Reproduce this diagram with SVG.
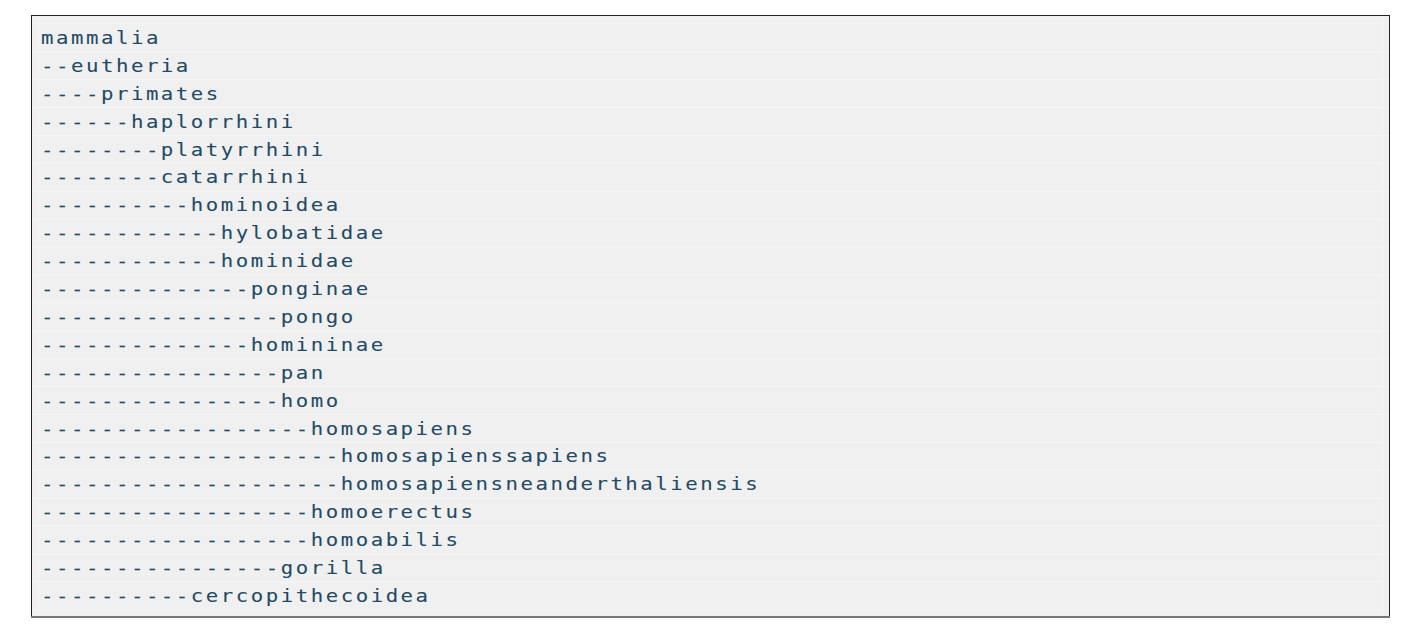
<svg xmlns="http://www.w3.org/2000/svg" width="1424" height="632" viewBox="0 0 1424 632">
<style>
.t{font-family:"DejaVu Sans Mono","Liberation Mono",monospace;font-size:18.5px;letter-spacing:2.25px;fill:#234a64;stroke:#234a64;stroke-width:0.08px}
.g{stroke:#f6f6f6;stroke-width:1}
</style>
<rect x="0" y="0" width="1424" height="632" fill="#ffffff"/>
<g id="panel">
<rect x="31.5" y="15.5" width="1358" height="601" fill="#f0f0f0" stroke="#222222" stroke-width="1"/>
<line x1="31" y1="617" x2="1390" y2="617" stroke="#777777" stroke-width="2"/>
</g>
<g id="grid" class="g">
<line x1="32" y1="23.8" x2="1389" y2="23.8"/>
<line x1="32" y1="51.7" x2="1389" y2="51.7"/>
<line x1="32" y1="79.6" x2="1389" y2="79.6"/>
<line x1="32" y1="107.5" x2="1389" y2="107.5"/>
<line x1="32" y1="135.4" x2="1389" y2="135.4"/>
<line x1="32" y1="163.3" x2="1389" y2="163.3"/>
<line x1="32" y1="191.2" x2="1389" y2="191.2"/>
<line x1="32" y1="219.1" x2="1389" y2="219.1"/>
<line x1="32" y1="247" x2="1389" y2="247"/>
<line x1="32" y1="274.9" x2="1389" y2="274.9"/>
<line x1="32" y1="302.8" x2="1389" y2="302.8"/>
<line x1="32" y1="330.7" x2="1389" y2="330.7"/>
<line x1="32" y1="358.6" x2="1389" y2="358.6"/>
<line x1="32" y1="386.5" x2="1389" y2="386.5"/>
<line x1="32" y1="414.4" x2="1389" y2="414.4"/>
<line x1="32" y1="442.3" x2="1389" y2="442.3"/>
<line x1="32" y1="470.2" x2="1389" y2="470.2"/>
<line x1="32" y1="498.1" x2="1389" y2="498.1"/>
<line x1="32" y1="526" x2="1389" y2="526"/>
<line x1="32" y1="553.9" x2="1389" y2="553.9"/>
<line x1="32" y1="581.8" x2="1389" y2="581.8"/>
<line x1="32" y1="609.7" x2="1389" y2="609.7"/>
<line x1="38.5" y1="16" x2="38.5" y2="616"/>
<line x1="1382.5" y1="16" x2="1382.5" y2="616"/>
</g>
<g id="rows" class="t" transform="scale(1.12,1)">
<text id="n0" x="36.607" y="44">mammalia</text>
<text id="n1" x="36.607" y="71.9">--eutheria</text>
<text id="n2" x="36.607" y="99.8">----primates</text>
<text id="n3" x="36.607" y="127.7">------haplorrhini</text>
<text id="n4" x="36.607" y="155.6">--------platyrrhini</text>
<text id="n5" x="36.607" y="183.5">--------catarrhini</text>
<text id="n6" x="36.607" y="211.4">----------hominoidea</text>
<text id="n7" x="36.607" y="239.3">------------hylobatidae</text>
<text id="n8" x="36.607" y="267.2">------------hominidae</text>
<text id="n9" x="36.607" y="295.1">--------------ponginae</text>
<text id="n10" x="36.607" y="323">----------------pongo</text>
<text id="n11" x="36.607" y="350.9">--------------homininae</text>
<text id="n12" x="36.607" y="378.8">----------------pan</text>
<text id="n13" x="36.607" y="406.7">----------------homo</text>
<text id="n14" x="36.607" y="434.6">------------------homosapiens</text>
<text id="n15" x="36.607" y="462.5">--------------------homosapienssapiens</text>
<text id="n16" x="36.607" y="490.4">--------------------homosapiensneanderthaliensis</text>
<text id="n17" x="36.607" y="518.3">------------------homoerectus</text>
<text id="n18" x="36.607" y="546.2">------------------homoabilis</text>
<text id="n19" x="36.607" y="574.1">----------------gorilla</text>
<text id="n20" x="36.607" y="602">----------cercopithecoidea</text>
</g>
</svg>
